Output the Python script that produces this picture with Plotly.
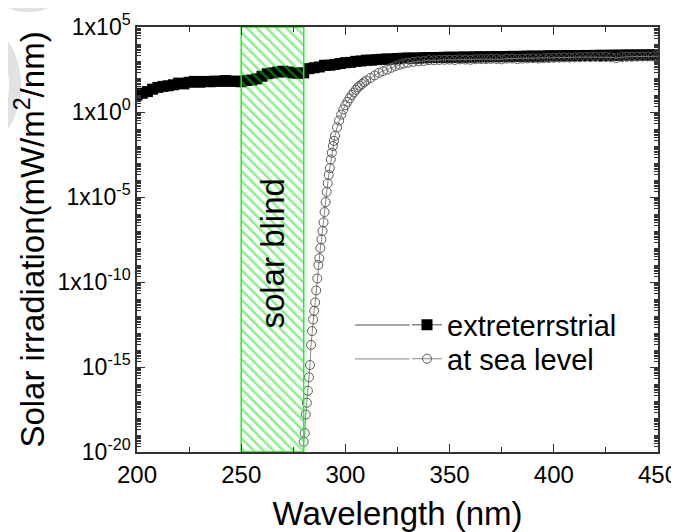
import plotly.graph_objects as go

# ---------------- data ----------------
ext_wl = [200, 202.5, 205, 207.5, 210, 212.5, 215, 217.5, 220, 222.5, 225, 227.5, 230, 232.5, 235, 237.5,
          240, 242.5, 245, 247.5, 250, 252.5, 255, 257.5, 260, 262.5, 265, 267.5, 270, 272.5, 275, 277.5,
          280, 282.5, 285, 287.5, 290, 292.5, 295, 297.5, 300, 302.5, 305, 307.5, 310, 312.5, 315, 317.5,
          320, 322.5, 325, 327.5, 330, 332.5, 335, 337.5, 340, 342.5, 345, 347.5, 350, 352.5, 355, 357.5,
          360, 362.5, 365, 367.5, 370, 372.5, 375, 377.5, 380, 382.5, 385, 387.5, 390, 392.5, 395, 397.5,
          400, 402.5, 405, 407.5, 410, 412.5, 415, 417.5, 420, 422.5, 425, 427.5, 430, 432.5, 435, 437.5,
          440, 442.5, 445, 447.5, 450]
ext_irr = [10, 12.6, 15.8, 22, 28, 32, 35, 40, 50, 45, 56, 63, 56, 63, 60, 66,
           63, 71, 63, 66, 60, 71, 76, 89, 126, 178, 200, 224, 251, 224, 200, 190,
           200, 355, 400, 447, 562, 562, 631, 708, 794, 832, 955, 1000, 1120, 1120, 1200, 1260,
           1320, 1300, 1400, 1450, 1500, 1480, 1500, 1550, 1600, 1580, 1620, 1650, 1680, 1650, 1700, 1720,
           1700, 1750, 1780, 1760, 1800, 1820, 1780, 1850, 1880, 1850, 1900, 1920, 1950, 1900, 1980, 2000,
           2020, 2000, 2050, 2080, 2050, 2100, 2120, 2100, 2150, 2170, 2150, 2200, 2180, 2220, 2250, 2230,
           2260, 2280, 2250, 2300, 2320]

sea_wl = [280, 280.5, 281, 281.5, 282, 282.5, 283, 283.5, 284, 284.5, 285, 285.5, 286, 286.5, 287, 287.5,
          288, 288.5, 289, 289.5, 290, 290.5, 291, 291.5, 292, 292.5, 293, 293.5, 294, 294.5, 295, 296,
          297, 298, 299, 300, 301, 302, 303, 304, 305, 306, 307, 308, 309, 310, 312, 314,
          316, 318, 320, 322, 324, 326, 328, 330, 332.5, 335, 337.5, 340, 342.5, 345, 347.5, 350,
          352.5, 355, 357.5, 360, 362.5, 365, 367.5, 370, 372.5, 375, 377.5, 380, 382.5, 385, 387.5, 390,
          392.5, 395, 397.5, 400, 402.5, 405, 407.5, 410, 412.5, 415, 417.5, 420, 422.5, 425, 427.5, 430,
          432.5, 435, 437.5, 440, 442.5, 445, 447.5, 450]
sea_irr = [4e-20, 1.3e-19, 1.6e-18, 7.9e-18, 4e-17, 2.5e-16, 1.3e-15, 2e-14, 1.3e-13, 6.3e-13, 2e-12, 6.3e-12,
           3.2e-11, 1.6e-10, 1e-9, 2.5e-9, 1e-8, 3.2e-8, 1e-7, 3.2e-7, 1.3e-6, 5e-6, 2e-5, 6.3e-5,
           2e-4, 5e-4, 1.6e-3, 4e-3, 0.01, 0.02, 0.04, 0.126, 0.316, 0.71, 1.41, 2.51, 3.98, 6.31,
           10, 14.1, 20, 28.2, 35.5, 44.7, 56.2, 70.8, 100, 141, 200, 251, 316, 398, 501, 603,
           708, 794, 891, 955, 1000, 1120, 1100, 1150, 1180, 1200, 1150, 1250, 1220, 1180, 1260, 1300,
           1280, 1350, 1320, 1250, 1380, 1400, 1300, 1380, 1420, 1450, 1400, 1480, 1500, 1550, 1600, 1620,
           1580, 1650, 1700, 1720, 1700, 1750, 1680, 1720, 1650, 1500, 1700, 1780, 1800, 1820, 1850, 1870,
           1880, 1900]

blind_range = [250, 280]
y_tickvals = [1e5, 1e0, 1e-5, 1e-10, 1e-15, 1e-20]
y_ticktext = ["1x10<sup>5</sup>", "1x10<sup>0</sup>", "1x10<sup>-5</sup>", "1x10<sup>-10</sup>",
              "10<sup>-15</sup>", "10<sup>-20</sup>"]
x_tickvals = [200, 250, 300, 350, 400, 450]

FONT = "Liberation Sans, Arial, sans-serif"

fig = go.Figure()

fig.add_trace(go.Scatter(
    x=ext_wl, y=ext_irr, mode="lines+markers", name="extreterrstrial", legend="legend",
    line=dict(color="#888888", width=1.5),
    marker=dict(symbol="square", size=11, color="black", line=dict(width=0)),
))
fig.add_trace(go.Scatter(
    x=sea_wl, y=sea_irr, mode="lines+markers", name="at sea level", legend="legend2",
    line=dict(color="#888888", width=1),
    marker=dict(symbol="circle-open", size=9, color="#5a5a5a", line=dict(width=1)),
))

# hatched "solar blind" band
fig.add_trace(go.Scatter(
    x=[blind_range[0], blind_range[1], blind_range[1], blind_range[0], blind_range[0]],
    y=[1e-20, 1e-20, 1e5, 1e5, 1e-20],
    mode="lines", fill="toself", fillcolor="rgba(0,0,0,0)",
    fillpattern=dict(shape="\\", fgcolor="#10e010", bgcolor="rgba(0,0,0,0)", size=7, solidity=0.35),
    line=dict(color="#22ee22", width=1.5),
    showlegend=False, hoverinfo="skip",
))

minor_y = [m * 10.0 ** k for k in range(-20, 5) for m in range(2, 10)]

leg_common = dict(xanchor="left", yanchor="middle", bgcolor="rgba(0,0,0,0)",
                  font=dict(size=29, family=FONT, color="black"), itemwidth=30)
# page body adds an 8px offset; plot area spans x 137-658, y 27-452 in the window
PL, PW = 137, 521
LEG_X = (407 - PL) / PW
LEG_Y1, LEG_Y2 = 0.299, 0.219

fig.update_layout(
    width=671, height=524,
    margin=dict(l=129, r=21, t=19, b=80, autoexpand=False),
    paper_bgcolor="white", plot_bgcolor="white",
    font=dict(family=FONT, color="black", size=24),
    showlegend=True,
    legend=dict(x=LEG_X, y=LEG_Y1, **leg_common),
    legend2=dict(x=LEG_X, y=LEG_Y2, **leg_common),
    xaxis=dict(range=[200, 450], tickvals=x_tickvals, ticks="inside", ticklen=8, tickwidth=1.2,
               tickcolor="#333", showline=True, linecolor="#333", linewidth=1.5, mirror="ticks",
               showgrid=False, zeroline=False, tickfont=dict(size=24), automargin=False,
               minor=dict(dtick=25, ticks="inside", ticklen=5, tickcolor="#333", showgrid=False),
               title=dict(text="Wavelength (nm)", font=dict(size=33), standoff=22)),
    yaxis=dict(type="log", range=[-20, 5], tickvals=y_tickvals, ticktext=y_ticktext,
               ticks="inside", ticklen=8, tickwidth=1.2, tickcolor="#333",
               showline=True, linecolor="#333", linewidth=1.5, mirror="ticks",
               showgrid=False, zeroline=False, tickfont=dict(size=23), automargin=False,
               minor=dict(tickmode="array", tickvals=minor_y, ticks="inside", ticklen=4,
                          tickcolor="#333", showgrid=False),
               title=dict(text="Solar irradiation(mW/m<sup>2</sup>/nm)", font=dict(size=33), standoff=3)),
    annotations=[dict(x=265, y=-8.3, xref="x", yref="y", text="solar blind", textangle=-90,
                      showarrow=False, font=dict(size=33, family=FONT, color="black"))],
    shapes=[
        dict(type="circle", xref="paper", yref="paper", x0=-0.309, x1=-0.109, y0=1.035, y1=1.28,
             fillcolor="#e2e2e2", line=dict(width=0), layer="below"),
        dict(type="circle", xref="paper", yref="paper", x0=-0.522, x1=-0.234, y0=0.687, y1=1.04,
             fillcolor="rgba(0,0,0,0)", line=dict(width=12, color="#e2e2e2"), layer="below"),
        # longer legend sample lines, as in the reference
        dict(type="line", xref="paper", yref="paper", x0=(355 - PL) / PW, x1=LEG_X + 0.005,
             y0=LEG_Y1, y1=LEG_Y1, line=dict(color="#888888", width=1.5)),
        dict(type="line", xref="paper", yref="paper", x0=(355 - PL) / PW, x1=LEG_X + 0.005,
             y0=LEG_Y2, y1=LEG_Y2, line=dict(color="#888888", width=1)),
    ],
)

fig.write_html("out.html")
